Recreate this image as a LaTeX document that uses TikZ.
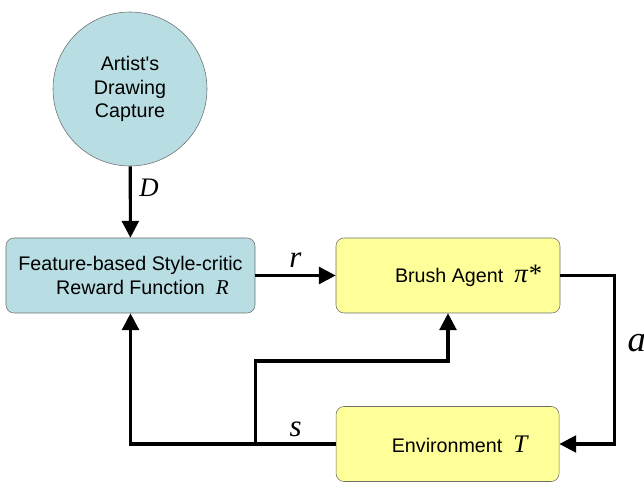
\documentclass[tikz,border=0pt]{standalone}
\usepackage{fontspec}
\setmainfont{Liberation Sans}[Ligatures=TeXOff]
\newfontfamily\varfont{Liberation Serif}
\usepackage{xcolor}
\usetikzlibrary{arrows.meta}
\usetikzlibrary{calc}

\definecolor{capblue}{RGB}{184,222,227}
\definecolor{boxyellow}{RGB}{255,255,153}
\definecolor{edgegray}{RGB}{110,110,110}

% italic serif symbols, size in pt
\newcommand{\sym}[2][18]{{\fontsize{#1}{#1}\selectfont\varfont\itshape #2}}

\begin{document}
\begin{tikzpicture}[
  source/.style={
    circle,
    draw=edgegray,
    fill=capblue,
    minimum size=3.85cm,
    align=center,
    font=\fontsize{14}{17}\selectfont
  },
  block/.style={
    rectangle,
    rounded corners=0.2cm,
    draw=edgegray,
    fill=#1,
    minimum height=1.875cm,
    align=center,
    font=\fontsize{14}{17}\selectfont
  },
  flow/.style={-{Triangle[length=0.42cm, width=0.42cm]}, line width=2.2pt, black},
  wire/.style={line width=2.2pt, black}
]
\useasboundingbox (0,0) rectangle (16.1,12.175);

\node[source] (cap) at (3.25, 9.95) {Artist's\\Drawing\\Capture};
\node[block=capblue, minimum width=6.225cm] (rew) at (3.2625, 5.2875)
  {Feature-based Style-critic\\\hspace*{0.6cm}Reward Function \ \sym[15]{R}};
\node[block=boxyellow, minimum width=5.6cm] (agent) at (11.2, 5.2875)
  {\hspace*{1cm}Brush Agent \ \sym[19]{π*}};
\node[block=boxyellow, minimum width=5.575cm] (env) at (11.19, 1.075)
  {\hspace*{0.6cm}Environment \ \sym[18]{T}};

\draw[flow] (cap) -- node[pos=0.3, right=2pt] {\sym[19]{D}} (rew);
\draw[flow] (rew) -- node[above=1pt] {\sym[22]{r}} (agent);
\draw[flow] (agent.east) -- ++(1.35,0) |- node[pos=0.2, right=5pt] {\sym[26]{a}} (env.east);

% state goes back to the critic and to the agent
\coordinate (split) at (rew.east |- env.west);
\coordinate (turn) at (rew.south |- env.west);
\draw[wire] (env.west) -- node[above=1pt] {\sym[22]{s}} (split);
\draw[flow] (split) -- (turn) -- (rew.south);
\draw[flow] (split) -- ++(0,2.075) -| (agent.south);
\end{tikzpicture}
\end{document}
